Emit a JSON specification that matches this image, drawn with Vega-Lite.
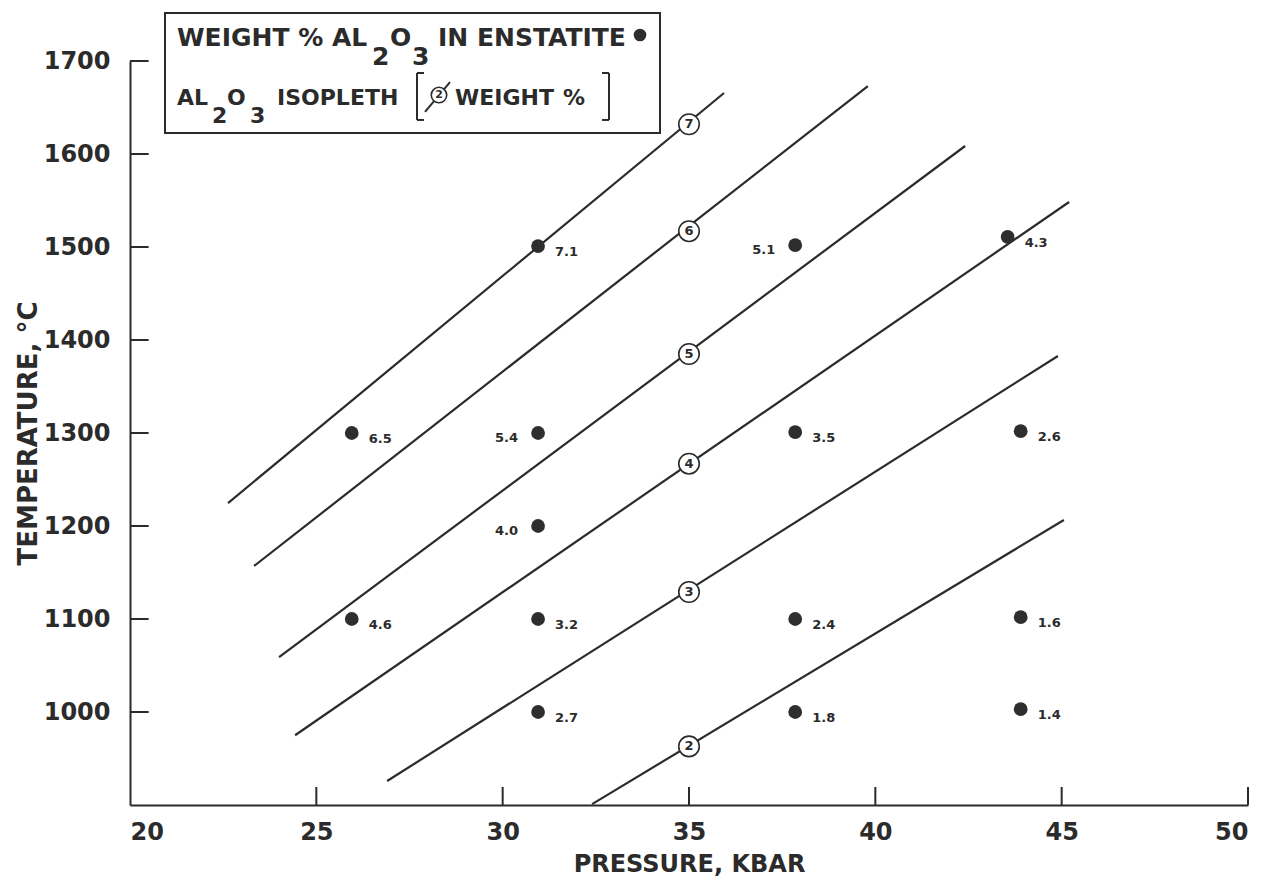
{
  "$schema": "https://vega.github.io/schema/vega-lite/v6.json",
  "width": 1118,
  "height": 744,
  "autosize": "none",
  "padding": {"left": 130, "top": 61, "right": 17, "bottom": 79},
  "background": "white",
  "config": {
    "view": {"stroke": null},
    "font": "DejaVu Sans",
    "axis": {
      "grid": false,
      "ticks": false,
      "domainColor": "#2b2b2b",
      "domainWidth": 2,
      "labelFont": "DejaVu Sans",
      "labelFontWeight": "bold",
      "labelFontSize": 24,
      "labelColor": "#2b2b2b",
      "titleFont": "DejaVu Sans",
      "titleFontWeight": "bold",
      "titleColor": "#2b2b2b"
    }
  },
  "datasets": {
    "isopleths": [
      {"iso": 7, "p": 22.63, "t": 1224.7}, {"iso": 7, "p": 35.94, "t": 1665.6},
      {"iso": 6, "p": 23.33, "t": 1157}, {"iso": 6, "p": 39.8, "t": 1673},
      {"iso": 5, "p": 24.0, "t": 1059}, {"iso": 5, "p": 42.41, "t": 1608.6},
      {"iso": 4, "p": 24.43, "t": 975}, {"iso": 4, "p": 45.2, "t": 1548.4},
      {"iso": 3, "p": 26.9, "t": 925.8}, {"iso": 3, "p": 44.9, "t": 1382.8},
      {"iso": 2, "p": 32.4, "t": 901}, {"iso": 2, "p": 45.06, "t": 1206.5}
    ],
    "markers": [
      {"iso": "7", "p": 35, "t": 1632},
      {"iso": "6", "p": 35, "t": 1517},
      {"iso": "5", "p": 35, "t": 1385},
      {"iso": "4", "p": 35, "t": 1267},
      {"iso": "3", "p": 35, "t": 1129},
      {"iso": "2", "p": 35, "t": 963}
    ],
    "samples": [
      {"p": 25.95, "t": 1300, "label": "6.5"},
      {"p": 25.95, "t": 1100, "label": "4.6"},
      {"p": 30.95, "t": 1501, "label": "7.1"},
      {"p": 30.95, "t": 1300, "label": "5.4"},
      {"p": 30.95, "t": 1200, "label": "4.0"},
      {"p": 30.95, "t": 1100, "label": "3.2"},
      {"p": 30.95, "t": 1000, "label": "2.7"},
      {"p": 37.85, "t": 1502, "label": "5.1"},
      {"p": 37.85, "t": 1301, "label": "3.5"},
      {"p": 37.85, "t": 1100, "label": "2.4"},
      {"p": 37.85, "t": 1000, "label": "1.8"},
      {"p": 43.55, "t": 1511, "label": "4.3"},
      {"p": 43.9, "t": 1302, "label": "2.6"},
      {"p": 43.9, "t": 1102, "label": "1.6"},
      {"p": 43.9, "t": 1003, "label": "1.4"}
    ],
    "axisTicks": [
      {"p": 25, "p2": 25, "t": 900, "t2": 919.4},
      {"p": 30, "p2": 30, "t": 900, "t2": 919.4},
      {"p": 35, "p2": 35, "t": 900, "t2": 919.4},
      {"p": 40, "p2": 40, "t": 900, "t2": 919.4},
      {"p": 45, "p2": 45, "t": 900, "t2": 919.4},
      {"p": 50, "p2": 50, "t": 900, "t2": 919.4},
      {"p": 20, "p2": 20.5, "t": 1000, "t2": 1000},
      {"p": 20, "p2": 20.5, "t": 1100, "t2": 1100},
      {"p": 20, "p2": 20.5, "t": 1200, "t2": 1200},
      {"p": 20, "p2": 20.5, "t": 1300, "t2": 1300},
      {"p": 20, "p2": 20.5, "t": 1400, "t2": 1400},
      {"p": 20, "p2": 20.5, "t": 1500, "t2": 1500},
      {"p": 20, "p2": 20.5, "t": 1600, "t2": 1600},
      {"p": 20, "p2": 20.5, "t": 1700, "t2": 1700}
    ],
    "legendBox": [{"p": 20.939, "p2": 34.222, "t": 1751.6, "t2": 1622.6}],
    "legendLine1": [
      {"p": 21.261, "t": 1716.1, "txt": "WEIGHT % AL"},
      {"p": 26.494, "t": 1695.7, "txt": "2"},
      {"p": 26.977, "t": 1716.1, "txt": "O"},
      {"p": 27.567, "t": 1695.7, "txt": "3"},
      {"p": 28.265, "t": 1716.1, "txt": "IN ENSTATITE"}
    ],
    "legendLine2": [
      {"p": 21.261, "t": 1652.7, "txt": "AL"},
      {"p": 22.2, "t": 1633.3, "txt": "2"},
      {"p": 22.603, "t": 1652.7, "txt": "O"},
      {"p": 23.22, "t": 1633.3, "txt": "3"},
      {"p": 23.945, "t": 1652.7, "txt": "ISOPLETH"},
      {"p": 28.721, "t": 1652.7, "txt": "WEIGHT"},
      {"p": 31.619, "t": 1652.7, "txt": "%"}
    ],
    "legendBrackets": [
      {"p": 27.701, "p2": 27.701, "t": 1687.1, "t2": 1636.6},
      {"p": 27.701, "p2": 27.889, "t": 1687.1, "t2": 1687.1},
      {"p": 27.701, "p2": 27.889, "t": 1636.6, "t2": 1636.6},
      {"p": 32.853, "p2": 32.853, "t": 1687.1, "t2": 1636.6},
      {"p": 32.665, "p2": 32.853, "t": 1687.1, "t2": 1687.1},
      {"p": 32.665, "p2": 32.853, "t": 1636.6, "t2": 1636.6},
      {"p": 27.916, "p2": 28.587, "t": 1645.2, "t2": 1677.4}
    ],
    "legendDot": [{"p": 33.685, "t": 1728.0}],
    "legendCircle": [{"p": 28.291, "t": 1663.4, "iso": "2"}]
  },
  "encoding": {
    "x": {
      "field": "p",
      "type": "quantitative",
      "scale": {"domain": [20, 50], "nice": false, "zero": false},
      "axis": {
        "values": [20, 25, 30, 35, 40, 45, 50],
        "labelPadding": 15,
        "title": "PRESSURE, KBAR",
        "titleFontSize": 24,
        "titlePadding": 8
      }
    },
    "y": {
      "field": "t",
      "type": "quantitative",
      "scale": {"domain": [900, 1700], "nice": false, "zero": false},
      "axis": {
        "values": [1000, 1100, 1200, 1300, 1400, 1500, 1600, 1700],
        "format": "d",
        "labelPadding": 20,
        "title": "TEMPERATURE, °C",
        "titleFontSize": 26,
        "titlePadding": 2
      }
    }
  },
  "layer": [
    {
      "data": {"name": "axisTicks"},
      "mark": {"type": "rule", "color": "#2b2b2b", "strokeWidth": 2},
      "encoding": {"x2": {"field": "p2"}, "y2": {"field": "t2"}}
    },
    {
      "data": {"name": "isopleths"},
      "mark": {"type": "line", "color": "#2b2b2b", "strokeWidth": 2.2},
      "encoding": {"detail": {"field": "iso", "type": "nominal"}}
    },
    {
      "data": {"name": "samples"},
      "mark": {"type": "point", "shape": "circle", "filled": true, "size": 190, "color": "#2e2e2e", "opacity": 1}
    },
    {
      "data": {"name": "samples"},
      "transform": [{"filter": "indexof(['5.4', '4.0', '5.1'], datum.label) < 0"}],
      "mark": {"type": "text", "align": "left", "baseline": "middle", "dx": 17, "dy": 6, "fontSize": 13, "fontWeight": "bold", "color": "#2b2b2b"},
      "encoding": {"text": {"field": "label"}}
    },
    {
      "data": {"name": "samples"},
      "transform": [{"filter": "indexof(['5.4', '4.0', '5.1'], datum.label) >= 0"}],
      "mark": {"type": "text", "align": "right", "baseline": "middle", "dx": -20, "dy": 5, "fontSize": 13, "fontWeight": "bold", "color": "#2b2b2b"},
      "encoding": {"text": {"field": "label"}}
    },
    {
      "data": {"name": "markers"},
      "mark": {"type": "point", "shape": "circle", "filled": true, "fill": "white", "stroke": "#2b2b2b", "strokeWidth": 1.6, "size": 420, "opacity": 1}
    },
    {
      "data": {"name": "markers"},
      "mark": {"type": "text", "align": "center", "baseline": "middle", "fontSize": 13, "fontWeight": "bold", "color": "#2b2b2b"},
      "encoding": {"text": {"field": "iso"}}
    },
    {
      "data": {"name": "legendBox"},
      "mark": {"type": "rect", "fill": "white", "stroke": "#2b2b2b", "strokeWidth": 2},
      "encoding": {"x2": {"field": "p2"}, "y2": {"field": "t2"}}
    },
    {
      "data": {"name": "legendLine1"},
      "mark": {"type": "text", "align": "left", "baseline": "alphabetic", "fontSize": 25, "fontWeight": "bold", "color": "#2b2b2b"},
      "encoding": {"text": {"field": "txt"}}
    },
    {
      "data": {"name": "legendLine2"},
      "mark": {"type": "text", "align": "left", "baseline": "alphabetic", "fontSize": 22, "fontWeight": "bold", "color": "#2b2b2b"},
      "encoding": {"text": {"field": "txt"}}
    },
    {
      "data": {"name": "legendBrackets"},
      "mark": {"type": "rule", "color": "#2b2b2b", "strokeWidth": 2},
      "encoding": {"x2": {"field": "p2"}, "y2": {"field": "t2"}}
    },
    {
      "data": {"name": "legendDot"},
      "mark": {"type": "point", "shape": "circle", "filled": true, "size": 160, "color": "#2e2e2e", "opacity": 1}
    },
    {
      "data": {"name": "legendCircle"},
      "mark": {"type": "point", "shape": "circle", "filled": true, "fill": "white", "stroke": "#2b2b2b", "strokeWidth": 1.6, "size": 240, "opacity": 1}
    },
    {
      "data": {"name": "legendCircle"},
      "mark": {"type": "text", "align": "center", "baseline": "middle", "fontSize": 11, "fontWeight": "bold", "color": "#2b2b2b"},
      "encoding": {"text": {"field": "iso"}}
    }
  ]
}
